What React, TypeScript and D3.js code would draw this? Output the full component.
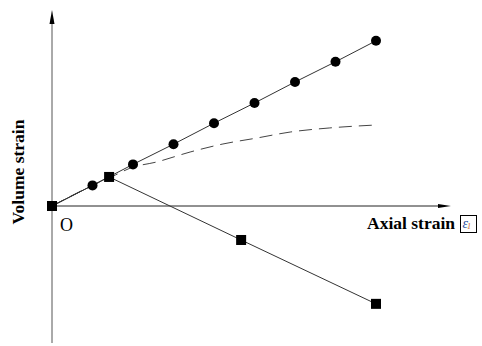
import React from 'react';
import * as d3 from 'd3';

// readings in chart units (1 x-unit ≈ one circle step)
const circleX = [0, 1, 2, 3, 4, 5, 6, 7, 8];
const circleY = [0, 1, 2.02, 3.0, 4.02, 5.0, 6.02, 7.0, 8.02];
const squareX = [0, 1.41, 4.67, 8];
const squareY = [0, 1.41, -1.65, -4.75];
const dashX = [0, 1, 1.56, 1.93, 2.59, 3.41, 4.22, 5.06, 5.88, 6.86, 7.98];
const dashY = [0, 1, 1.5, 1.84, 2.14, 2.62, 3.01, 3.3, 3.59, 3.79, 3.93];

export default function App() {
  const w = 482;
  const h = 346;
  const x = d3.scaleLinear().domain([0, 10]).range([52, 457]);
  const y = d3.scaleLinear().domain([0, 10]).range([206, 0]);

  const line = d3.line<[number, number]>().x(d => x(d[0])).y(d => y(d[1]));
  const curve = d3
    .line<[number, number]>()
    .x(d => x(d[0]))
    .y(d => y(d[1]))
    .curve(d3.curveMonotoneX);

  const circles = circleX.map((v, i) => [v, circleY[i]] as [number, number]);
  const squares = squareX.map((v, i) => [v, squareY[i]] as [number, number]);
  const dashed = dashX.map((v, i) => [v, dashY[i]] as [number, number]);

  const ox = x(0);
  const oy = y(0);

  return (
    <svg
      width={w}
      height={h}
      style={{ position: 'absolute', left: 0, top: 0, background: '#fff' }}
      fontFamily="'Liberation Serif', 'Times New Roman', serif"
    >
      {/* axes */}
      <line x1={ox} y1={343} x2={ox} y2={20} stroke="#555" strokeWidth={1} />
      <path d={`M${ox},10 L${ox - 2.5},24 L${ox + 2.5},24 Z`} fill="#000" />
      <line x1={ox} y1={oy} x2={442} y2={oy} stroke="#222" strokeWidth={1} />
      <path d={`M451,${oy} L438,${oy - 2} L438,${oy + 2} Z`} fill="#000" />

      {/* dashed curve */}
      <path d={curve(dashed) || ''} fill="none" stroke="#444" strokeWidth={1} strokeDasharray="13,7" />

      {/* lines */}
      <path d={line(circles) || ''} fill="none" stroke="#333" strokeWidth={1} />
      <path d={line(squares) || ''} fill="none" stroke="#333" strokeWidth={1} />

      {circles.slice(1).map((d, i) => (
        <circle key={i} cx={x(d[0])} cy={y(d[1])} r={5} fill="#000" />
      ))}
      {squares.map((d, i) => (
        <rect key={i} x={x(d[0]) - 5} y={y(d[1]) - 5} width={10} height={10} fill="#000" />
      ))}

      {/* labels */}
      <text x={60} y={231} fontSize={18}>O</text>
      <text
        transform={`translate(24,172) rotate(-90)`}
        textAnchor="middle"
        fontSize={17.5}
        fontWeight="bold"
      >
        Volume strain
      </text>
      <text x={455} y={229} textAnchor="end" fontSize={17.5} fontWeight="bold">
        Axial strain
      </text>
      <rect x={460.5} y={215.5} width={16} height={17} fill="#fff" stroke="#000" strokeWidth={1} />
      <text x={462.5} y={228} fontSize={14} fontStyle="italic" fill="#2a4fa0">
        ε<tspan fontSize={8} dy={1} dx={-1} fill="#c8602a">1</tspan>
      </text>
    </svg>
  );
}
